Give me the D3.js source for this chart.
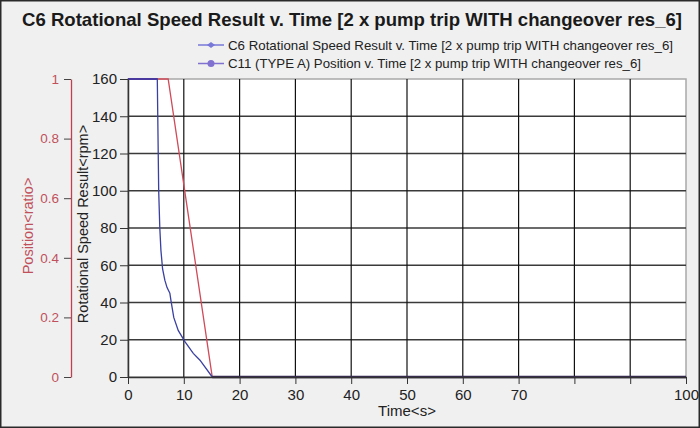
<!DOCTYPE html>
<html><head><meta charset="utf-8">
<script src="https://cdn.jsdelivr.net/npm/d3@7"></script>
<style>
html,body{margin:0;padding:0;background:#f0f0f0;}
svg{display:block;font-family:"Liberation Sans",Arial,sans-serif;}
</style></head>
<body><svg id="c" width="700" height="428"></svg>
<script>
const titleText = "C6 Rotational Speed Result v. Time [2 x pump trip WITH changeover res_6]";
const seriesNames = [
  "C6 Rotational Speed Result v. Time [2 x pump trip WITH changeover res_6]",
  "C11 (TYPE A) Position v. Time [2 x pump trip WITH changeover res_6]"
];
const xTicks = [0,10,20,30,40,50,60,70,80,90,100];
const xTickLabels = ["0","10","20","30","40","50","60","70","","","100"];
const speedTicks = [0,20,40,60,80,100,120,140,160];
const posTicks = [0,0.2,0.4,0.6,0.8,1];
// C6 rotational speed (rpm) vs time (s)
const speedTime  = [0, 5.25, 5.5, 5.7, 5.9, 6.2, 6.6, 7.0, 7.5, 7.7, 8.2, 9.0, 10.2, 11.7, 12.9, 15.1, 100];
const speedValue = [160, 160, 100, 80, 68, 58, 52, 48, 45, 41, 32, 25, 19, 12.7, 9, 0, 0];
// C11 position (ratio) vs time (s)
const posTime  = [0, 7.2, 15.1, 100];
const posValue = [1, 1, 0, 0];

const svg = d3.select("#c");
const W = 700, H = 428;
const L = 128, R = 686, T = 79, B = 377;

svg.append("rect").attr("x",0.5).attr("y",0.5).attr("width",W-1).attr("height",H-1)
  .attr("fill","#f0f0f0").attr("stroke","#2a2a2a").attr("stroke-width",2);

const x = d3.scaleLinear().domain([0,100]).range([L,R]);
const y = d3.scaleLinear().domain([0,160]).range([B,T]);
const y2 = d3.scaleLinear().domain([0,1]).range([B,T]);

// plot background
svg.append("rect").attr("x",L).attr("y",T).attr("width",R-L).attr("height",B-T)
  .attr("fill","#ffffff").attr("stroke","#a8a8a8").attr("stroke-width",1.5);

// grid
svg.append("g").selectAll("line").data(speedTicks.filter(d=>d>0&&d<160)).join("line")
  .attr("x1",L).attr("x2",R).attr("y1",d=>y(d)).attr("y2",d=>y(d))
  .attr("stroke","#3a3a3a").attr("stroke-width",1.5);
svg.append("g").selectAll("line").data(xTicks.filter(d=>d>0&&d<100)).join("line")
  .attr("y1",T).attr("y2",B).attr("x1",d=>x(d)).attr("x2",d=>x(d))
  .attr("stroke","#111").attr("stroke-width",1.2);

// title
svg.append("text").attr("x",352).attr("y",26).attr("text-anchor","middle")
  .attr("font-size",18.5).attr("font-weight","bold").attr("fill","#1a1a1a")
  .attr("textLength",660).attr("lengthAdjust","spacingAndGlyphs").text(titleText);

// legend
const legColors = ["#7878d8","#8070d0"];
seriesNames.forEach((n,i)=>{
  const ly = 45 + i*18.5;
  const g = svg.append("g");
  g.append("line").attr("x1",198).attr("x2",224).attr("y1",ly).attr("y2",ly)
    .attr("stroke",legColors[i]).attr("stroke-width",1.5);
  if(i===0){
    g.append("path").attr("d",`M${207},${ly}L${211},${ly-3}L${215},${ly}L${211},${ly+3}Z`).attr("fill",legColors[i]);
  } else {
    g.append("circle").attr("cx",211).attr("cy",ly).attr("r",3.5).attr("fill",legColors[i]);
  }
  g.append("text").attr("x",228).attr("y",ly+4.5).attr("font-size",13.2).attr("fill","#222")
    .attr("textLength", i===0?445:413).attr("lengthAdjust","spacingAndGlyphs").text(n);
});

// lines
const lineSpeed = d3.line().x(d=>x(d[0])).y(d=>y(d[1]));
const linePos = d3.line().x(d=>x(d[0])).y(d=>y2(d[1]));
svg.append("path").datum(posTime.map((t,i)=>[t,posValue[i]])).attr("d",linePos)
  .attr("fill","none").attr("stroke","#d04a58").attr("stroke-width",1.3);
svg.append("path").datum(speedTime.map((t,i)=>[t,speedValue[i]])).attr("d",lineSpeed)
  .attr("fill","none").attr("stroke","#3a40a0").attr("stroke-width",1.3);
// overlap at zero
svg.append("line").attr("x1",x(15.1)).attr("x2",R).attr("y1",B).attr("y2",B)
  .attr("stroke","#3a2a55").attr("stroke-width",2.5);
svg.append("line").attr("x1",L).attr("x2",x(5.25)).attr("y1",T).attr("y2",T)
  .attr("stroke","#4a3aa0").attr("stroke-width",2);

// x axis
const xa = svg.append("g").attr("transform",`translate(0,${B})`)
  .call(d3.axisBottom(x).tickValues(xTicks).tickFormat((d,i)=>xTickLabels[i]).tickSize(7).tickSizeOuter(0));
xa.select(".domain").attr("stroke","#333").attr("stroke-width",1.5);
xa.selectAll(".tick line").attr("stroke","#333");
xa.selectAll("text").attr("font-size",15).attr("fill","#222").attr("font-family","Liberation Sans, Arial, sans-serif").attr("dy","0.85em");

svg.append("text").attr("x",407).attr("y",416).attr("text-anchor","middle")
  .attr("font-size",15).attr("fill","#222").text("Time<s>");

// speed axis
const ya = svg.append("g").attr("transform",`translate(${L},0)`)
  .call(d3.axisLeft(y).tickValues(speedTicks).tickSize(8).tickSizeOuter(0).tickPadding(3));
ya.select(".domain").attr("stroke","#333").attr("stroke-width",1.5);
ya.selectAll(".tick line").attr("stroke","#333");
ya.selectAll("text").attr("font-size",15).attr("fill","#222").attr("font-family","Liberation Sans, Arial, sans-serif");
svg.append("text").attr("transform",`translate(88,${(T+B)/2-4}) rotate(-90)`).attr("text-anchor","middle")
  .attr("font-size",14.5).attr("fill","#222").text("Rotational Speed Result<rpm>");

// position axis
const pa = svg.append("g").attr("transform",`translate(71,0)`)
  .call(d3.axisLeft(y2).tickValues(posTicks).tickFormat(d=>d3.format("")(d)).tickSize(7).tickSizeOuter(0).tickPadding(5));
pa.select(".domain").attr("stroke","#c04050").attr("stroke-width",1.3);
pa.selectAll(".tick line").attr("stroke","#444");
pa.selectAll("text").attr("font-size",13.5).attr("fill","#c0505c").attr("font-family","Liberation Sans, Arial, sans-serif");
svg.append("text").attr("transform",`translate(33,${(T+B)/2-2}) rotate(-90)`).attr("text-anchor","middle")
  .attr("font-size",14.5).attr("fill","#c0505c").text("Position<ratio>");
</script></body></html>
